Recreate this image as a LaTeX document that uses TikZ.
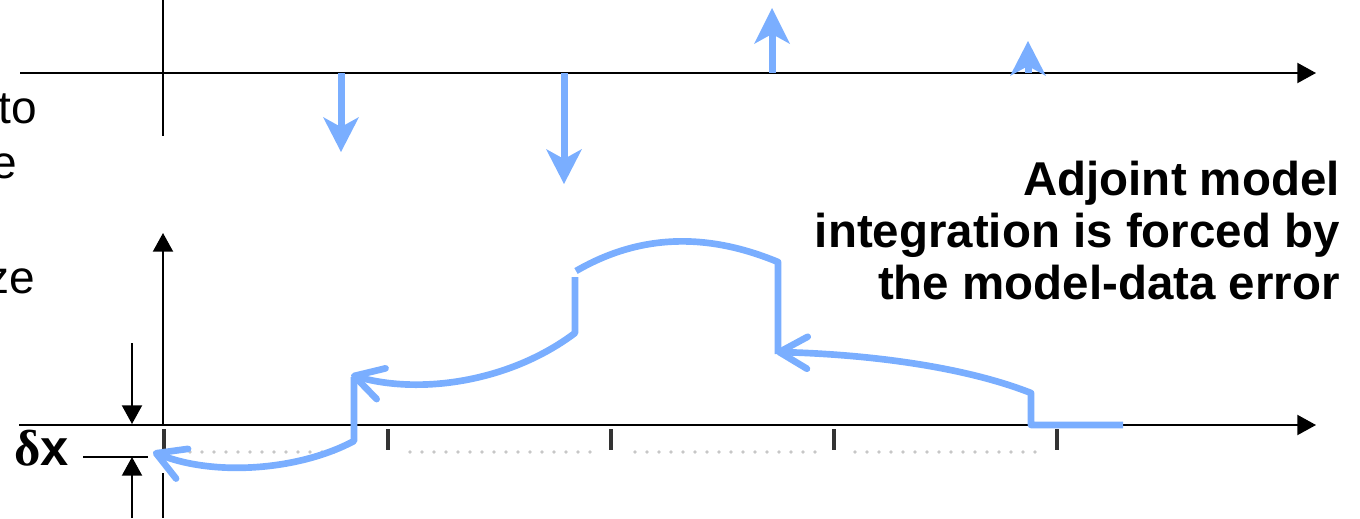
\documentclass[tikz,border=0pt]{standalone}
\usepackage{fontspec}
\setmainfont{Liberation Sans}
\newfontfamily\serifb{Liberation Serif}
\usetikzlibrary{arrows.meta}
\definecolor{adjblue}{RGB}{122,174,255}
\tikzset{
  axis/.style={line width=1.5pt, black},
  axisarrow/.style={axis, -{Triangle[length=14pt,width=15pt]}},
  blueline/.style={adjblue, line width=5pt, line join=round},
  bluebarb/.style={blueline, -{Straight Barb[length=21pt,width=24pt,round]}},
  bluehead/.style={fill=adjblue, draw=none},
  tick/.style={black!80, line width=3.2pt},
  dots/.style={black!22, line width=2.8pt, line cap=round, dash pattern=on 0pt off 9pt},
  bigtext/.style={anchor=base east, inner sep=0pt, font=\fontsize{35.6}{38}\selectfont\bfseries},
  cuttext/.style={anchor=base east, inner sep=0pt, font=\fontsize{34.5}{38}\selectfont}
}
\begin{document}
\begin{tikzpicture}[x=0.75pt,y=-0.75pt]
\useasboundingbox (0,0) rectangle (1360,518);
\clip (0,0) rectangle (1360,518);

% ---------- cut-off text on the left ----------
\node[cuttext] (l1) at (37,123) {to};
\node[cuttext] (l2) at (17,178) {e};
\node[cuttext] (l3) at (35,293) {ze};

% ---------- upper diagram ----------
\coordinate (ta0) at (20,73);
\coordinate (ta1) at (1316,73);
\draw[axisarrow] (ta0) -- (ta1);
\coordinate (tv0) at (163,0);
\coordinate (tv1) at (163,136);
\draw[axis] (tv0) -- (tv1);

% blue observation arrows
\fill[adjblue] (337.5,73) rectangle (344.5,128);
\fill[bluehead] (341,152) -- (323,117) -- (341,127) -- (359,117) -- cycle;
\fill[adjblue] (560.5,73) rectangle (567.5,160);
\fill[bluehead] (564,184) -- (546,149) -- (564,159) -- (582,149) -- cycle;
\fill[adjblue] (768.5,73) rectangle (775.5,33);
\fill[bluehead] (772,8) -- (754,44) -- (772,34) -- (790,44) -- cycle;
\fill[adjblue] (1024.5,73) rectangle (1031.5,65);
\fill[bluehead] (1028,41) -- (1010,76) -- (1028,66) -- (1046,76) -- cycle;

% ---------- lower diagram ----------
\coordinate (ba0) at (19,425);
\coordinate (ba1) at (1316,425);
\draw[axisarrow] (ba0) -- (ba1);
\coordinate (bv0) at (163,425);
\coordinate (bv1) at (163,233);
\draw[axisarrow] (bv0) -- (bv1);
\coordinate (bv2) at (163,473);
\coordinate (bv3) at (163,518);
\draw[axis] (bv2) -- (bv3);

% dotted line and ticks
\draw[dots] (190,452) -- (340,452);
\draw[dots] (410,452) -- (595,452);
\draw[dots] (635,452) -- (815,452);
\draw[dots] (855,452) -- (1038,452);
\foreach \tx in {164,388,611,834,1057}
  \draw[tick] (\tx,429) -- (\tx,450);

% delta x dimension
\coordinate (dxa0) at (132,343);
\coordinate (dxa1) at (132,424);
\draw[axisarrow] (dxa0) -- (dxa1);
\coordinate (dxb0) at (132,518);
\coordinate (dxb1) at (132,457);
\draw[axisarrow] (dxb0) -- (dxb1);
\coordinate (dxl0) at (83,457);
\coordinate (dxl1) at (148,457);
\draw[axis] (dxl0) -- (dxl1);
\node[anchor=base west, inner sep=0pt, font=\fontsize{38}{40}\selectfont\bfseries] (dx) at (14,465) {{\serifb δ}x};

% ---------- blue adjoint trajectory ----------
\coordinate (p0) at (1123,425);
\coordinate (p1) at (1031,425);
\coordinate (p2) at (1031,393);
\coordinate (p3) at (776,352);
\draw[bluebarb] (p0) -- (p1) -- (p2) .. controls (960,365) and (860,354) .. (p3);

\coordinate (q0) at (778,354);
\coordinate (q1) at (778,262);
\coordinate (q2) at (576,271);
\draw[blueline] (q0) -- (q1) .. controls (720,238) and (650,228) .. (q2);

\coordinate (r0) at (575,277);
\coordinate (r1) at (575,333);
\coordinate (r2) at (351,375);
\draw[bluebarb] (r0) -- (r1) .. controls (510,382) and (420,395) .. (r2);

\coordinate (s0) at (354,377);
\coordinate (s1) at (354,441);
\coordinate (s2) at (153,452);
\draw[bluebarb] (s0) -- (s1) .. controls (300,470) and (215,477) .. (s2);

% ---------- caption ----------
\node[bigtext] (t1) at (1340,195) {Adjoint model};
\node[bigtext] (t2) at (1340,247) {integration is forced by};
\node[bigtext] (t3) at (1340,299) {the model-data error};
\end{tikzpicture}
\end{document}
